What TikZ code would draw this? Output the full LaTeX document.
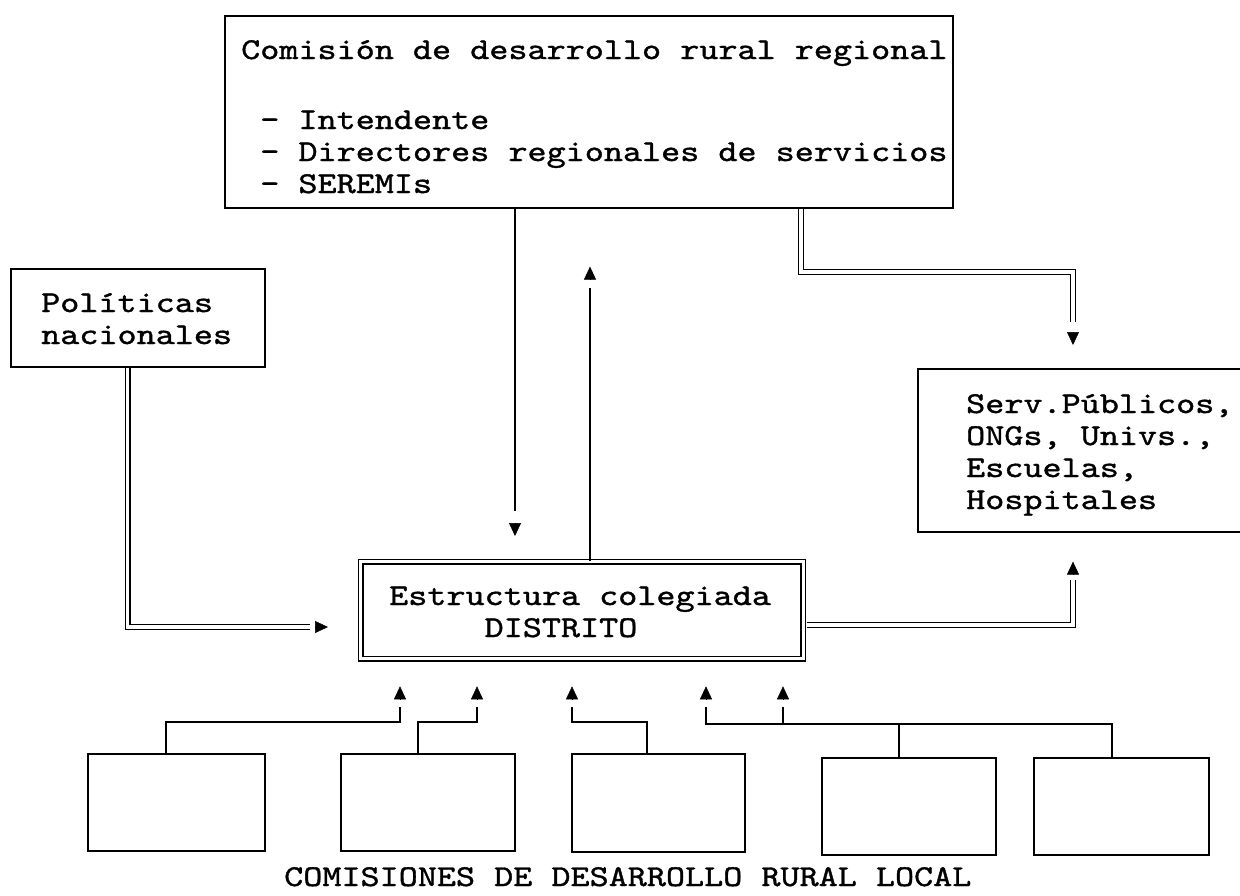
\documentclass[tikz,border=0pt]{standalone}
\usepackage{fontspec}
\newfontfamily\cour{lmmono10-regular.otf}[FakeStretch=1.2, FakeBold=1.2]
\usetikzlibrary{arrows.meta,calc}
\begin{document}
\begin{tikzpicture}[x=1pt,y=-1pt,
  box/.style={draw, line width=1.6pt, inner sep=0pt, anchor=north west},
  txt/.style={font=\cour\fontsize{30.3}{32}\selectfont, inner sep=0pt, anchor=base west, align=left},
  ln/.style={line width=1.6pt},
  dbl/.style={draw, double, line width=1.3pt, double distance=3.2pt},
  tip/.style={line width=0.5pt, -{Triangle[width=12pt,length=13pt]}}]
\useasboundingbox (0,0) rectangle (1240,895);
% boxes
\node[box, minimum width=728pt, minimum height=192pt] (top) at (224,15) {};
\node[box, minimum width=254pt, minimum height=98pt] (pol) at (10,268) {};
\node[box, double, line width=1.3pt, double distance=3.2pt, minimum width=442.5pt, minimum height=97pt] (dist) at (360,561) {};
\node[box, minimum width=328pt, minimum height=163pt] (serv) at (917,368) {};
\node[box, minimum width=177pt, minimum height=97pt] (c1) at (87,753) {};
\node[box, minimum width=174pt, minimum height=97pt] (c2) at (340,753) {};
\node[box, minimum width=173pt, minimum height=98pt] (c3) at (571,753) {};
\node[box, minimum width=174pt, minimum height=97pt] (c4) at (821,757) {};
\node[box, minimum width=175pt, minimum height=97pt] (c5) at (1033,757) {};
% texts (base anchor = baseline of last line)
\node[txt] (toptext) at (241,193) {Comisión de desarrollo rural regional\\[38pt]
~- Intendente\\
~- Directores regionales de servicios\\
~- SEREMIs};
\node[txt] (poltext) at (41,344) {Políticas\\nacionales};
\node[txt] (disttext) at (389,637) {Estructura colegiada\\~~~~~DISTRITO};
\node[txt] (servtext) at (966,509) {Serv.Públicos,\\ONGs, Univs.,\\Escuelas,\\Hospitales};
\node[txt] (lbl) at (284,886) {COMISIONES DE DESARROLLO RURAL LOCAL};
% top -> dist (down)
\draw[ln] (515,0 |- top.south) -- (515,511);
\draw[tip] ($(515,0 |- dist.north)+(0,-38)$) -- ++(0,13);
% dist -> top (up)
\draw[ln] (590,0 |- dist.north) -- (590,288);
\draw[tip] ($(590,0 |- top.south)+(0,71)$) -- ++(0,-13);
% top -> serv (double)
\draw[dbl] (801,0 |- top.south) -- (801,272) -- (1073,272) -- (1073,322);
\draw[tip] ($(1073,0 |- serv.north)+(0,-36)$) -- ++(0,13);
% dist -> serv (double)
\draw[dbl] ($(dist.east |- 0,625)+(2.9,0)$) -- (1073,625) -- (1073,580);
\draw[tip] ($(1073,0 |- serv.south)+(0,42)$) -- ++(0,-13);
% pol -> dist (double)
\draw[dbl] ([xshift=-10pt]pol.south) |- (310,627);
\draw[tip] ($(dist.west |- 0,627)+(-45,0)$) -- ++(13,0);
% local commissions -> dist
\draw[ln] (166,0 |- c1.north) -- (166,722) -- (400,722) -- (400,707);
\draw[tip] ($(400,0 |- dist.south)+(0,40)$) -- ++(0,-13);
\draw[ln] (418,0 |- c2.north) -- (418,722) -- (477,722) -- (477,707);
\draw[tip] ($(477,0 |- dist.south)+(0,40)$) -- ++(0,-13);
\draw[ln] (647,0 |- c3.north) -- (647,722) -- (572,722) -- (572,707);
\draw[tip] ($(572,0 |- dist.south)+(0,40)$) -- ++(0,-13);
\draw[ln] (899,0 |- c4.north) -- (899,724) -- (706,724) -- (706,707);
\draw[tip] ($(706,0 |- dist.south)+(0,40)$) -- ++(0,-13);
\draw[ln] (1112,0 |- c5.north) -- (1112,724) -- (783,724) -- (783,707);
\draw[tip] ($(783,0 |- dist.south)+(0,40)$) -- ++(0,-13);
\end{tikzpicture}
\end{document}
